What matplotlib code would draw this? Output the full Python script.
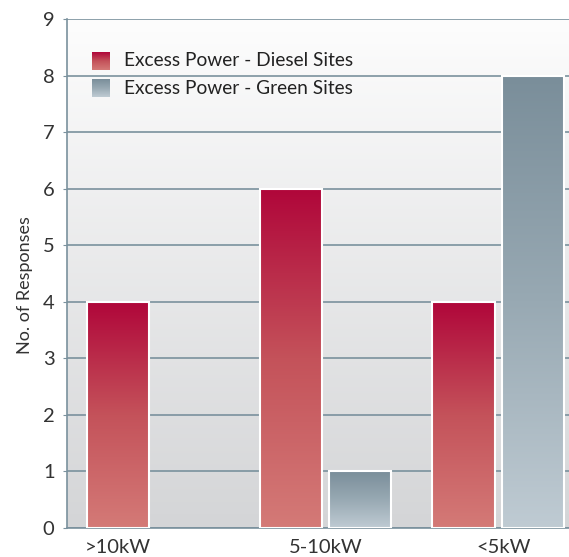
import numpy as np
import matplotlib.pyplot as plt
from matplotlib.colors import LinearSegmentedColormap

categories = ['>10kW', '5-10kW', '<5kW']
diesel = [4, 6, 4]
green = [0, 1, 8]
series_names = ['Excess Power - Diesel Sites', 'Excess Power - Green Sites']

plt.rcParams['font.family'] = ['Lato', 'DejaVu Sans']

red_cmap = LinearSegmentedColormap.from_list('red', ['#d47a77', '#c4525a', '#b0063a'])
grey_cmap = LinearSegmentedColormap.from_list('grey', ['#bfcbd3', '#98a9b3', '#7a8e9a'])
bg_cmap = LinearSegmentedColormap.from_list('bg', ['#d4d5d7', '#fdfdfd'])
grid_col = '#7a919d'
text_col = '#333333'

fig = plt.figure(figsize=(5.69, 5.57), dpi=100)
ax = fig.add_axes([0.1178, 0.052, 0.8822, 0.914])

xmin, xmax, ymin, ymax = -0.494, 2.41, 0, 9
ramp = np.linspace(0, 1, 256).reshape(-1, 1)

# background fade from grey at the bottom to white at the top
ax.imshow(ramp, cmap=bg_cmap, origin='lower', aspect='auto',
          extent=(xmin, xmax, ymin, ymax), zorder=0)

x = np.arange(len(categories))
w = 0.36
off = 0.2


def gradient_bars(xs, vals, cmap):
    bars = ax.bar(xs, vals, width=w, facecolor='none', edgecolor='white',
                  linewidth=1.5, zorder=3)
    for b in bars:
        h = b.get_height()
        if h <= 0:
            b.set_visible(False)
            continue
        x0 = b.get_x()
        ax.imshow(ramp, cmap=cmap, origin='lower', aspect='auto',
                  extent=(x0, x0 + b.get_width(), 0, h), zorder=2)
    return bars


gradient_bars(x - off, diesel, red_cmap)
gradient_bars(x + off, green, grey_cmap)

ax.set_xlim(xmin, xmax)
ax.set_ylim(ymin, ymax)
ax.set_yticks(range(0, 10))
ax.set_xticks([-0.2, 1.0, 2.03])
ax.set_xticklabels(categories)
ax.yaxis.grid(True, color=grid_col, linewidth=1.2, zorder=1)
ax.set_axisbelow(True)

for side in ['top', 'right']:
    ax.spines[side].set_visible(False)
for side in ['left', 'bottom']:
    ax.spines[side].set_color(grid_col)
    ax.spines[side].set_linewidth(1.2)

ax.tick_params(axis='y', length=3, color=grid_col, labelsize=14.5,
               labelcolor=text_col, pad=6)
ax.tick_params(axis='x', length=0, labelsize=14.5, labelcolor=text_col, pad=8)
ax.set_ylabel('No. of Responses', fontsize=13, color=text_col)
ax.yaxis.set_label_coords(-0.068, 0.477)

# legend swatches with the same fades as the bars
for i, (name, cmap) in enumerate(zip(series_names, [red_cmap, grey_cmap])):
    top = 1 - (52 + 27 * i) / 557
    sw = fig.add_axes([92 / 569, top - 18 / 557, 18 / 569, 18 / 557])
    sw.imshow(ramp, cmap=cmap, origin='lower', aspect='auto')
    sw.axis('off')
    fig.text(124 / 569, top - 9 / 557, name, fontsize=13.8, color='#222222',
             va='center', ha='left')

fig.savefig('out.png', dpi=100)
